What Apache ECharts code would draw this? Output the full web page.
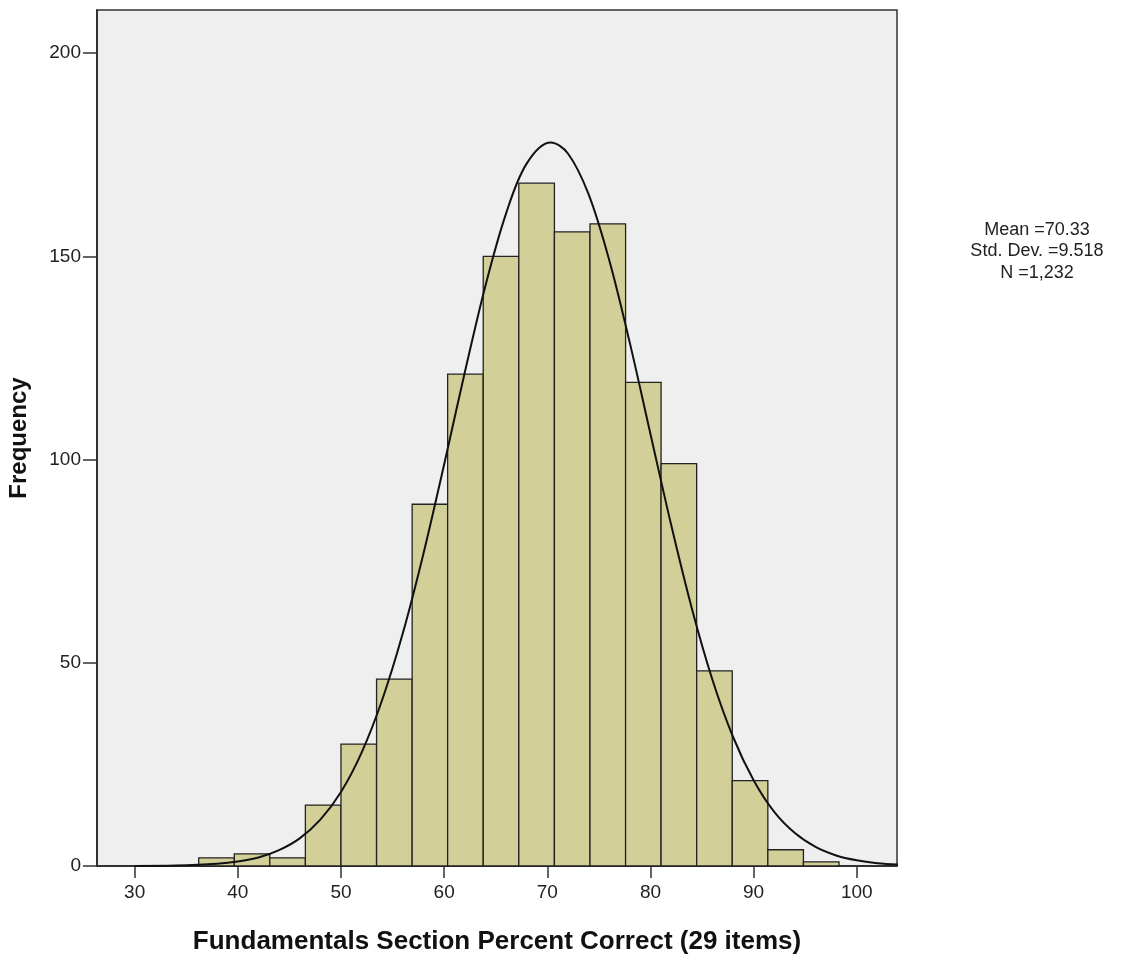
<!DOCTYPE html>
<html>
<head>
<meta charset="utf-8">
<script src="https://cdn.jsdelivr.net/npm/echarts@6/dist/echarts.min.js"></script>
<style>
  html, body { margin: 0; padding: 0; background: #fff; }
  #chart { width: 1125px; height: 961px; }
</style>
</head>
<body>
<div id="chart"></div>
<script>
// bin edges (percent correct), one bin per item score
var binEdges = [36.21, 39.66, 43.10, 46.55, 50.00, 53.45, 56.90, 60.34, 63.79, 67.24,
                70.69, 74.14, 77.59, 81.03, 84.48, 87.93, 91.38, 94.83, 98.28];
var counts = [2, 3, 2, 15, 30, 46, 89, 121, 150, 168, 156, 158, 119, 99, 48, 21, 4, 1];

// normal curve
var curveX = [30, 34, 38, 40, 42, 44, 46, 48, 50, 52, 54, 56, 58, 60, 62, 64, 66, 68, 70.33,
              72, 74, 76, 78, 80, 82, 84, 86, 88, 90, 92, 94, 96, 98, 100, 102, 104];
var curveY = [0.02, 0.12, 0.56, 1.1, 2.1, 3.9, 6.8, 11.4, 18.2, 27.9, 40.9, 57.3, 76.9, 98.8,
              121.4, 142.7, 160.5, 172.8, 178.0, 175.3, 165.3, 149.1, 128.7, 106.3, 84.0,
              63.5, 45.9, 31.8, 21.1, 13.3, 8.1, 4.7, 2.6, 1.4, 0.7, 0.34];

var xTicks = [30, 40, 50, 60, 70, 80, 90, 100];
var yTicks = [0, 50, 100, 150, 200];
var statLines = ['Mean =70.33', 'Std. Dev. =9.518', 'N =1,232'];

var FONT = '"Liberation Sans", Arial, sans-serif';

var barData = [];
for (var i = 0; i < counts.length; i++) {
    barData.push([binEdges[i], binEdges[i + 1], counts[i]]);
}
var lineData = [];
for (var j = 0; j < curveX.length; j++) {
    lineData.push([curveX[j], curveY[j]]);
}

var statText = statLines.map(function(s, k) {
    return {
        type: 'text',
        x: 1037,
        y: 230 + k * 21.5,
        style: {
            text: s,
            fill: '#222',
            font: '18px ' + FONT,
            textAlign: 'center',
            textVerticalAlign: 'middle'
        }
    };
});

var option = {
    animation: false,
    grid: {
        left: 97,
        top: 10,
        width: 800,
        height: 856,
        outerBoundsMode: 'none',
        containLabel: false,
        show: true,
        backgroundColor: '#efefef',
        borderColor: '#333',
        borderWidth: 1.5
    },
    xAxis: {
        type: 'value',
        min: 26.35,
        max: 103.9,
        name: 'Fundamentals Section Percent Correct (29 items)',
        nameLocation: 'middle',
        nameGap: 63,
        nameTextStyle: { fontFamily: FONT, fontWeight: 'bold', fontSize: 26, color: '#111' },
        splitLine: { show: false },
        axisLine: { show: true, onZero: false, lineStyle: { color: '#222', width: 1.5 } },
        axisTick: { show: true, length: 12, customValues: xTicks, lineStyle: { color: '#333', width: 1.5 } },
        axisLabel: { customValues: xTicks, margin: 17, fontFamily: FONT, fontSize: 19, color: '#222' }
    },
    yAxis: {
        type: 'value',
        min: 0,
        max: 210.6,
        name: 'Frequency',
        nameLocation: 'middle',
        nameGap: 66,
        nameTextStyle: { fontFamily: FONT, fontWeight: 'bold', fontSize: 24, color: '#111' },
        splitLine: { show: false },
        axisLine: { show: true, lineStyle: { color: '#222', width: 1.5 } },
        axisTick: { show: true, length: 14, customValues: yTicks, lineStyle: { color: '#333', width: 1.5 } },
        axisLabel: { customValues: yTicks, margin: 16, fontFamily: FONT, fontSize: 19, color: '#222' }
    },
    graphic: statText,
    series: [
        {
            type: 'custom',
            data: barData,
            encode: { x: [0, 1], y: 2 },
            renderItem: function(params, api) {
                var p0 = api.coord([api.value(0), 0]);
                var p1 = api.coord([api.value(1), api.value(2)]);
                return {
                    type: 'rect',
                    shape: { x: p0[0], y: p1[1], width: p1[0] - p0[0], height: p0[1] - p1[1] },
                    style: { fill: '#d3cf98', stroke: '#222', lineWidth: 1.3 }
                };
            },
            z: 2
        },
        {
            type: 'line',
            data: lineData,
            smooth: 0.35,
            showSymbol: false,
            symbol: 'none',
            lineStyle: { color: '#111', width: 2 },
            z: 5
        }
    ]
};

var chart = echarts.init(document.getElementById('chart'));
chart.setOption(option);
</script>
</body>
</html>
